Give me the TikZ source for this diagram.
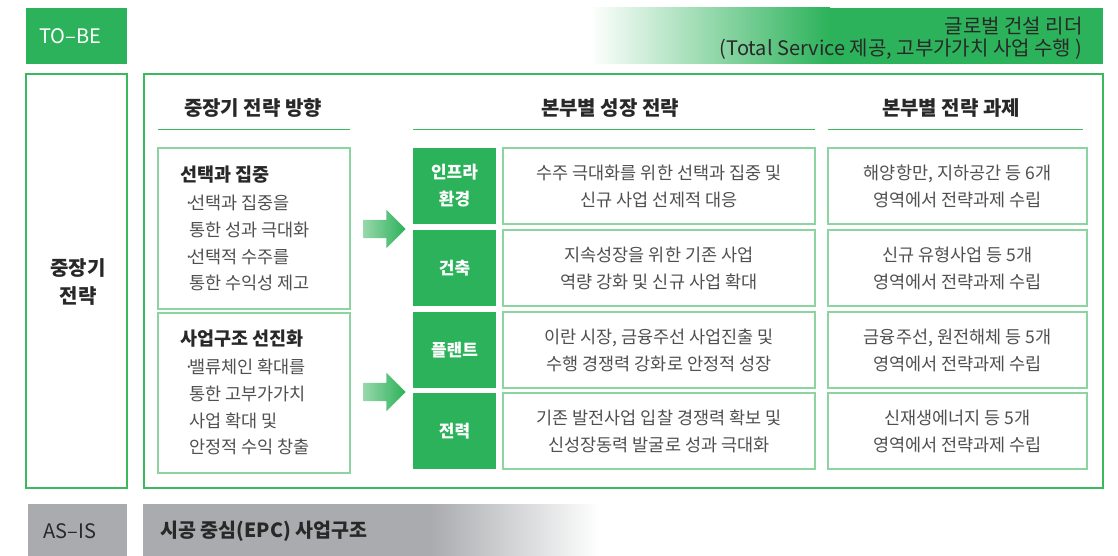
\documentclass[tikz,border=0pt]{standalone}
\usepackage{fontspec}
\setmainfont{Noto Sans CJK KR}
\usetikzlibrary{shapes.arrows}
\definecolor{gmain}{RGB}{44,178,90}
\definecolor{gline}{RGB}{60,185,95}
\definecolor{glight}{RGB}{140,212,160}
\definecolor{gfade}{RGB}{150,215,170}
\definecolor{graybox}{RGB}{170,171,174}
\definecolor{tdark}{RGB}{40,40,40}
\definecolor{tbody}{RGB}{80,80,80}
\newcommand{\bul}{\llap{·\kern-5.5pt}}
\tikzset{
  outerbox/.style={draw=gline, line width=1.3pt, fill=white},
  innerbox/.style={draw=glight, line width=1.3pt, fill=white},
  labelbox/.style={fill=gmain, draw=none},
  hdr/.style={font=\fontsize{20}{24}\selectfont\bfseries, text=tdark},
  uline/.style={draw=gline, line width=1pt},
  body/.style={font=\fontsize{17.5}{27}\selectfont, text=tbody, align=center},
  lbody/.style={font=\fontsize{17.5}{26.7}\selectfont, text=tbody, align=left, anchor=north west, inner sep=0pt},
  ltitle/.style={font=\fontsize{18.5}{22}\selectfont\bfseries, text=tdark, anchor=west, inner sep=0pt},
  wlabel/.style={font=\fontsize{17}{27}\selectfont\bfseries, text=white, align=center},
  bigarrow/.style={single arrow, draw=none, minimum height=42pt, minimum width=38pt, inner sep=9pt, single arrow head extend=10pt, left color=gfade, right color=gmain},
}
\begin{document}
\begin{tikzpicture}[x=1pt,y=-1pt]
\useasboundingbox (0,0) rectangle (1118,556);
% TO-BE row
\fill[gmain] (26,8) rectangle (127,64);
\node[font=\fontsize{20}{22}\selectfont, text=white] (tobe) at (70,36) {TO–BE};
\shade[left color=white, right color=gmain] (590,8) rectangle (830,64);
\fill[gmain] (829.5,8) rectangle (1103,64);
\node[font=\fontsize{20}{22.5}\selectfont, text=tdark, align=right, anchor=east] (goal) at (1086,38) {글로벌 건설 리더\\(Total Service 제공, 고부가가치 사업 수행 )};
% main frames
\draw[outerbox] (26,74) rectangle (127,488);
\node[font=\fontsize{20}{28}\selectfont\bfseries, text=tdark, align=center] (mid) at (78,282) {중장기\\전략};
\draw[outerbox] (144,74) rectangle (1103,488);
% headers
\node[hdr] (h1) at (253,108) {중장기 전략 방향};
\node[hdr] (h2) at (610,108) {본부별 성장 전략};
\node[hdr] (h3) at (951,108) {본부별 전략 과제};
\draw[uline] (158,130) -- (350,130);
\draw[uline] (413,130) -- (815,130);
\draw[uline] (828,130) -- (1083,130);
% left boxes
\draw[innerbox] (158,148) rectangle (350,309);
\node[ltitle] (t1) at (180,175) {선택과 집중};
\node[lbody] (b1) at (189,195) {\bul 선택과 집중을\\통한 성과 극대화\\\bul 선택적 수주를\\통한 수익성 제고};
\draw[innerbox] (158,313) rectangle (350,473);
\node[ltitle] (t2) at (180,339) {사업구조 선진화};
\node[lbody] (b2) at (189,359) {\bul 밸류체인 확대를\\통한 고부가가치\\사업 확대 및\\안정적 수익 창출};
% arrows
\node[bigarrow] (a1) at (380,229) {};
\node[bigarrow] (a2) at (380,392) {};
% rows
\foreach \i/\ya/\yb/\lab/\ma/\ra in {
  1/148/224/{인프라\\환경}/{수주 극대화를 위한 선택과 집중 및\\신규 사업 선제적 대응}/{해양항만, 지하공간 등 6개\\영역에서 전략과제 수립},
  2/230/306/{건축}/{지속성장을 위한 기존 사업\\역량 강화 및 신규 사업 확대}/{신규 유형사업 등 5개\\영역에서 전략과제 수립},
  3/312/388/{플랜트}/{이란 시장, 금융주선 사업진출 및\\수행 경쟁력 강화로 안정적 성장}/{금융주선, 원전해체 등 5개\\영역에서 전략과제 수립},
  4/393/469/{전력}/{기존 발전사업 입찰 경쟁력 확보 및\\신성장동력 발굴로 성과 극대화}/{신재생에너지 등 5개\\영역에서 전략과제 수립}}{
  \fill[labelbox] (413,\ya) rectangle (496,\yb);
  \node[wlabel] (lab\i) at (454.5,{(\ya+\yb)/2}) {\lab};
  \draw[innerbox] (503,\ya) rectangle (815,\yb);
  \node[body] (m\i) at (659,{(\ya+\yb)/2}) {\ma};
  \draw[innerbox] (828,\ya) rectangle (1087,\yb);
  \node[body] (r\i) at (957.5,{(\ya+\yb)/2}) {\ra};
}
% AS-IS row
\fill[graybox] (28,504) rectangle (127,556);
\node[font=\fontsize{20}{22}\selectfont, text=tdark] (asis) at (70,531) {AS–IS};
\fill[graybox] (143,504) rectangle (430.5,556);
\shade[left color=graybox, right color=white] (430,504) rectangle (600,556);
\node[font=\fontsize{19.5}{22}\selectfont\bfseries, text=tdark, anchor=west] (epc) at (157,531) {시공 중심(EPC) 사업구조};
\end{tikzpicture}
\end{document}
